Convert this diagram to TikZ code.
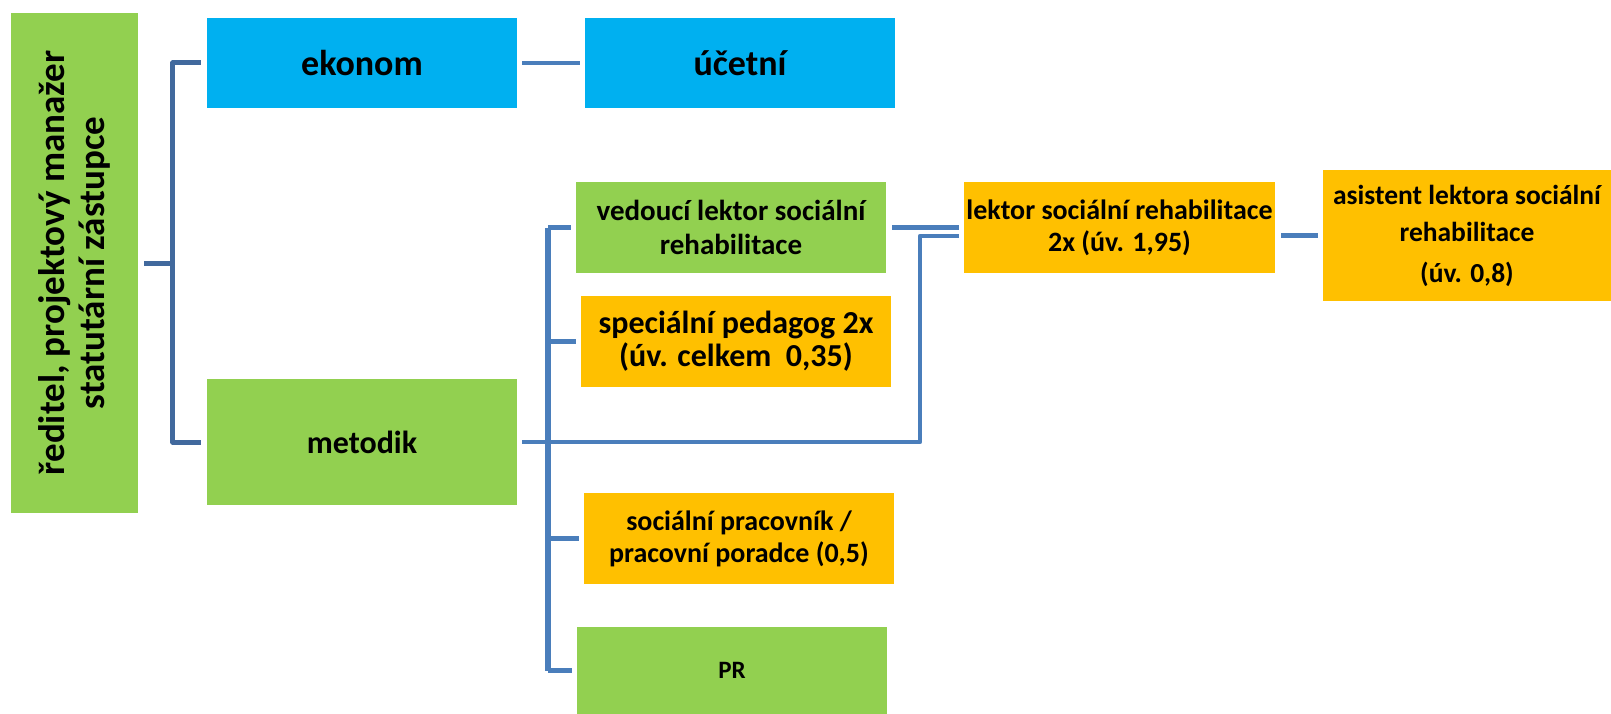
\documentclass[tikz,border=0pt]{standalone}
\usepackage{fontspec}
\setmainfont{Carlito}
\usepackage{tikz}

\definecolor{zelena}{HTML}{92D050}
\definecolor{modra}{HTML}{00B0F0}
\definecolor{oranz}{HTML}{FFC000}
\definecolor{linka}{HTML}{4A7EBB}
\definecolor{linkatm}{HTML}{41699D}

\begin{document}
\begin{tikzpicture}[x=1pt, y=-1pt,
        box/.style={rectangle, inner sep=0pt, minimum width=310, minimum height=91, align=center},
        spoj/.style={linka, line width=4.5pt, line join=round},
        spojtm/.style={linkatm, line width=5pt, line join=round}]
            \useasboundingbox (0,0) rectangle (1611,714);

            % Vedeni
            \node[box, fill=zelena, rotate=90, minimum width=500, minimum height=127,
                font=\bfseries\fontsize{37}{40}\selectfont] (reditel) at (74.5,263)
                {ředitel, projektový manažer\\statutární zástupce};
            \node[box, fill=modra, minimum height=90, font=\bfseries\fontsize{36}{40}\selectfont] (ekonom) at (362,63) {ekonom};
            \node[box, fill=modra, minimum height=90, font=\bfseries\fontsize{36}{40}\selectfont] (ucetni) at (740,63) {účetní};
            \node[box, fill=zelena, minimum height=126, font=\bfseries\fontsize{32}{36}\selectfont] (metodik) at (362,442) {metodik};

            % Pod metodikem
            \node[box, fill=zelena, font=\bfseries\fontsize{29}{34}\selectfont] (vedouci) at (731,227.5) {vedoucí lektor sociální\\rehabilitace};
            \node[box, fill=oranz, font=\bfseries\fontsize{32}{33}\selectfont] (pedagog) at (736,341.5) {speciální pedagog 2x\\(úv. celkem \ 0,35)};
            \node[box, fill=oranz, font=\bfseries\fontsize{28}{32}\selectfont] (socprac) at (739,538.5) {sociální pracovník /\\pracovní poradce (0,5)};
            \node[box, fill=zelena, minimum height=87, font=\bfseries\fontsize{25}{30}\selectfont] (pr) at (732,670.5) {PR};

            % Lektori
            \node[box, fill=oranz, minimum width=311, font=\bfseries\fontsize{28}{32}\selectfont] (lektor) at (1119.5,227.5) {lektor sociální rehabilitace\\2x (úv. 1,95)};
            \node[box, fill=oranz, minimum width=288, minimum height=131, font=\bfseries\fontsize{27.5}{37}\selectfont] (asistent) at (1467,235.5) {asistent lektora sociální\\rehabilitace\\[4pt](úv. 0,8)};

            % Spojnice od reditele
            \draw[spojtm] ([xshift=6]reditel.south) -- ++(29,0);
            \draw[spojtm] ([xshift=-6]ekonom.west) -| ([xshift=-34]metodik.west) -- ([xshift=-6]metodik.west);
            \draw[spoj] ([xshift=5]ekonom.east) -- ([xshift=-5]ucetni.west);

            % Spojnice od metodika
            \coordinate (osa) at (548,442);
            \coordinate (ohyb) at (920,442);
            \draw[spoj, line width=6.5pt] (osa |- vedouci.west) -- (osa |- pr.west);
            \foreach \n/\d in {vedouci/5, pedagog/5, socprac/5, pr/5}
                \draw[spoj] ([xshift=-\d]\n.west) -- (osa |- \n.west);
            \draw[spoj] ([xshift=5]metodik.east) -- (ohyb) |- ([xshift=-5,yshift=-8.5]lektor.west);
            \draw[spoj] ([xshift=6]vedouci.east) -- ([xshift=-5]lektor.west);
            \draw[spoj] ([xshift=-5]asistent.west) -- ([xshift=6]lektor.east |- asistent.west);
        \end{tikzpicture}
\end{document}
